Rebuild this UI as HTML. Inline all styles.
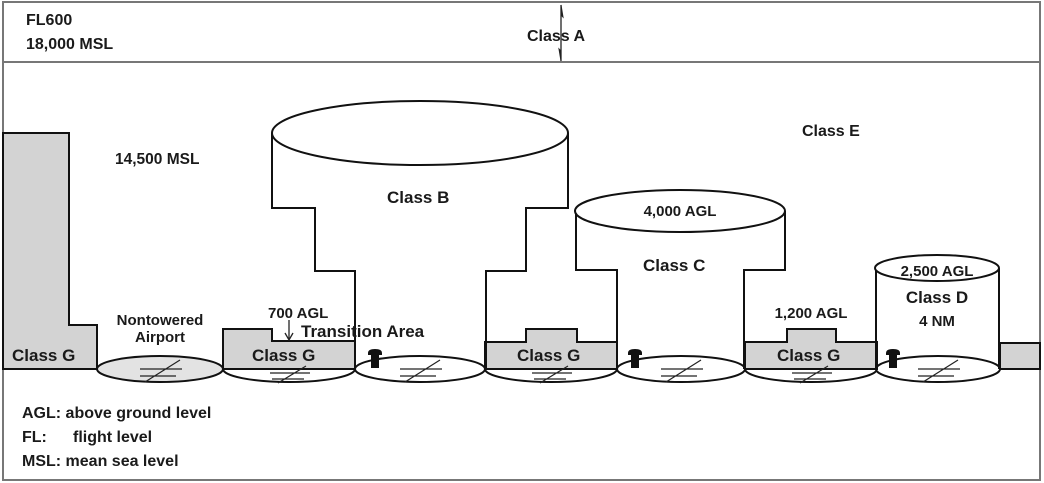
<!DOCTYPE html>
<html><head><style>
html,body{margin:0;padding:0;background:#fff}
svg{display:block}
text{font-family:"Liberation Sans",Arial,sans-serif;font-weight:bold;fill:#1a1a1a;font-size:15px}
</style></head><body>
<svg width="1044" height="483" viewBox="0 0 1044 483" xmlns="http://www.w3.org/2000/svg">
<rect x="3" y="2" width="1037" height="478" fill="#fff" stroke="#777" stroke-width="2"/>
<line x1="3" y1="62" x2="1040" y2="62" stroke="#777" stroke-width="2"/>
<line x1="561" y1="5" x2="561" y2="61" stroke="#222" stroke-width="1.3"/>
<path d="M561,5 L563,17 L561,15 Z" fill="#222" stroke="#222" stroke-width="1"/>
<path d="M561,61 L559,49 L561,51 Z" fill="#222" stroke="#222" stroke-width="1"/>
<g stroke="#111" stroke-width="2" fill="none">
<path d="M3,133 H69 V325 H97 V369 H3 Z" fill="#d3d3d3"/>
<ellipse cx="160" cy="369" rx="63" ry="13" fill="#e3e3e3"/>
<ellipse cx="289" cy="369" rx="66" ry="13" fill="#fff"/>
<ellipse cx="420" cy="369" rx="65" ry="13" fill="#fff"/>
<ellipse cx="551" cy="369" rx="66" ry="13" fill="#fff"/>
<ellipse cx="681" cy="369" rx="64" ry="13" fill="#fff"/>
<ellipse cx="811" cy="369" rx="66" ry="13" fill="#fff"/>
<ellipse cx="938" cy="369" rx="62" ry="13" fill="#fff"/>
<path d="M223,369 V329 H272 V341 H355 V369 Z" fill="#d3d3d3"/>
<path d="M485,369 V342 H526 V329 H577 V342 H617 V369 Z" fill="#d3d3d3"/>
<path d="M745,369 V342 H787 V329 H836 V342 H877 V369 Z" fill="#d3d3d3"/>
<path d="M1000,369 V343 H1040 V369 Z" fill="#d3d3d3"/>
<path d="M355,369 V271 H315 V208 H272 V133"/>
<path d="M486,369 V271 H526 V208 H568 V133"/>
<ellipse cx="420" cy="133" rx="148" ry="32" fill="#fff"/>
<path d="M617,369 V270 H576 V211"/>
<path d="M744,369 V270 H785 V211"/>
<ellipse cx="680" cy="211" rx="105" ry="21" fill="#fff"/>
<path d="M876,369 V268 M999,369 V268"/>
<ellipse cx="937" cy="268" rx="62" ry="13" fill="#fff"/>
</g>
<g stroke="#222" stroke-width="1.2">
<path d="M140,369 H182 M140,376 H176 M145,382 L180,360"/>
<path d="M270,373 H310 M272,379 H304 M278,383 L306,366"/>
<path d="M400,369 H442 M400,376 H436 M405,382 L440,360"/>
<path d="M532,373 H572 M534,379 H566 M540,383 L568,366"/>
<path d="M661,369 H703 M661,376 H697 M666,382 L701,360"/>
<path d="M792,373 H832 M794,379 H826 M800,383 L828,366"/>
<path d="M918,369 H960 M918,376 H954 M923,382 L958,360"/>
</g>
<g fill="#111">
<path d="M368,353 Q368,349 375,349 Q382,349 382,353 V355 H379 V368 H371 V355 H368 Z"/>
<path d="M628,353 Q628,349 635,349 Q642,349 642,353 V355 H639 V368 H631 V355 H628 Z"/>
<path d="M886,353 Q886,349 893,349 Q900,349 900,353 V355 H897 V368 H889 V355 H886 Z"/>
</g>
<line x1="289" y1="320" x2="289" y2="339" stroke="#222" stroke-width="1.3"/>
<path d="M285,333 L289,340 L293,333" fill="none" stroke="#222" stroke-width="1.3"/>
<text x="26" y="25" style="font-size:16px">FL600</text>
<text x="26" y="49" style="font-size:16px">18,000 MSL</text>
<text x="527" y="41" style="font-size:16px">Class A</text>
<text x="802" y="136" style="font-size:16px">Class E</text>
<text x="115" y="164" style="font-size:15.5px">14,500 MSL</text>
<text x="387" y="203" style="font-size:17px">Class B</text>
<text x="680" y="216" text-anchor="middle" style="font-size:15px">4,000 AGL</text>
<text x="643" y="271" style="font-size:17px">Class C</text>
<text x="937" y="276" text-anchor="middle" style="font-size:15px">2,500 AGL</text>
<text x="937" y="303" text-anchor="middle" style="font-size:17px">Class D</text>
<text x="937" y="326" text-anchor="middle" style="font-size:15px">4 NM</text>
<text x="811" y="318" text-anchor="middle" style="font-size:15px">1,200 AGL</text>
<text x="160" y="325" text-anchor="middle" style="font-size:15px">Nontowered</text>
<text x="160" y="342" text-anchor="middle" style="font-size:15px">Airport</text>
<text x="268" y="318" style="font-size:15px">700 AGL</text>
<text x="301" y="337" style="font-size:17px">Transition Area</text>
<text x="12" y="361" style="font-size:17px">Class G</text>
<text x="252" y="361" style="font-size:17px">Class G</text>
<text x="517" y="361" style="font-size:17px">Class G</text>
<text x="777" y="361" style="font-size:17px">Class G</text>
<text x="22" y="418" style="font-size:16px">AGL: above ground level</text>
<text x="22" y="442" style="font-size:16px">FL:</text>
<text x="73" y="442" style="font-size:16px">flight level</text>
<text x="22" y="466" style="font-size:16px">MSL: mean sea level</text>
</svg>
</body></html>
